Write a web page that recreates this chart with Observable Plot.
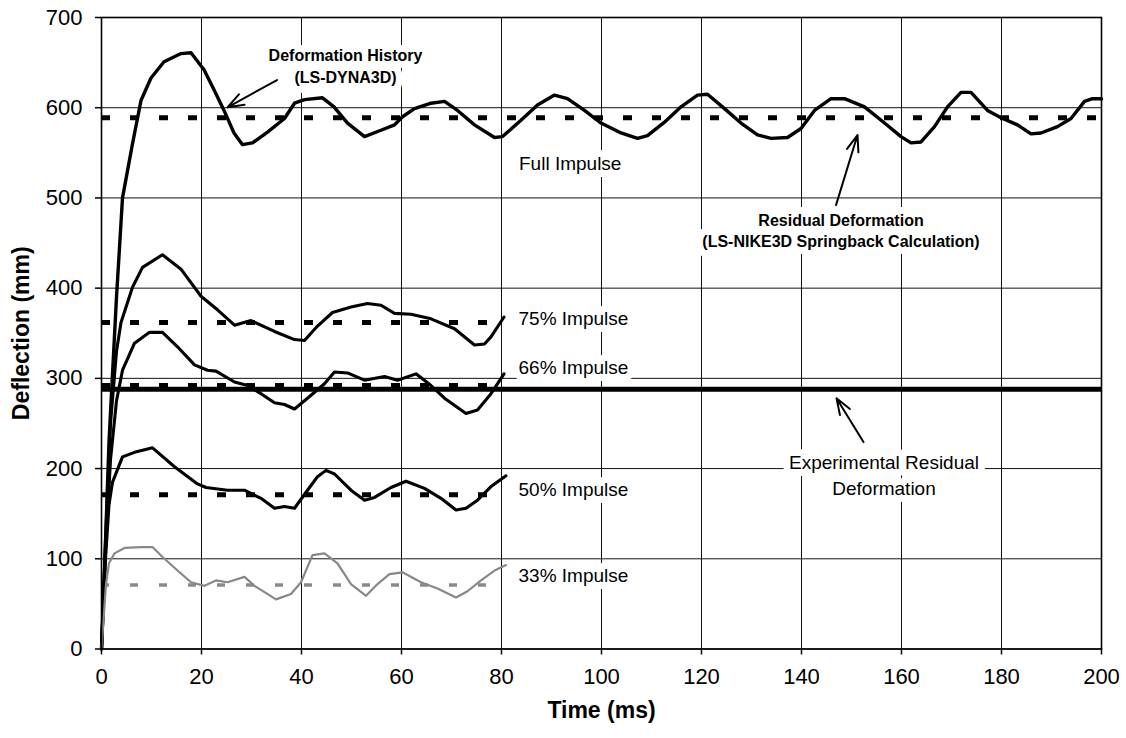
<!DOCTYPE html>
<html>
<head>
<meta charset="utf-8">
<script src="https://cdn.jsdelivr.net/npm/d3@7"></script>
<script src="https://cdn.jsdelivr.net/npm/@observablehq/plot@0.6"></script>
<style>
  html, body { margin: 0; padding: 0; background: #fff; }
</style>
</head>
<body>
<div id="chart"></div>
<script>
// ---- tick labels ----
const xTicks = [0, 20, 40, 60, 80, 100, 120, 140, 160, 180, 200];
const yTicks = [0, 100, 200, 300, 400, 500, 600, 700];

// ---- deformation histories (LS-DYNA3D) ----
const fullT = [0, 0.5, 1.5, 3, 4.2, 6.2, 7.9, 9.9, 12.5, 15.9, 17.9, 20.5, 22.5, 24.5, 26.5, 28.2, 30.2, 33.2, 36.6, 38.6, 40.6, 44.2, 46.5, 49.2, 52.6, 55.9, 58.6, 60.2, 62.6, 65.9, 68.6, 71.2, 74.6, 78.6, 80.2, 83.9, 87.2, 90.6, 93.2, 96.6, 99.9, 103.9, 107.2, 109.2, 112.6, 115.9, 119.2, 121.2, 124.6, 127.9, 131.2, 133.9, 137.2, 139.9, 142.6, 145.9, 148.6, 152.6, 156.6, 159.9, 161.9, 163.9, 166.6, 169.2, 171.9, 173.9, 177.2, 179.9, 183.2, 185.9, 187.9, 191.2, 193.9, 196.6, 198.2, 200];
const fullD = [0, 70, 230, 390, 500, 560, 608, 633, 651, 660, 661, 642, 620, 597, 572, 559, 561, 573, 588, 605, 609, 611, 601, 583, 568, 575, 581, 590, 599, 605, 607, 597, 581, 567, 568, 586, 603, 614, 610, 597, 583, 572, 566, 569, 584, 601, 614, 615, 599, 583, 570, 566, 567, 577, 597, 610, 610, 601, 583, 568, 561, 562, 579, 601, 617, 617, 597, 589, 581, 571, 572, 579, 588, 607, 610, 610];

const p75T = [0, 0.8, 1.8, 3, 3.9, 6.2, 8.2, 12.2, 15.9, 19.9, 23.2, 26.6, 29.9, 34.6, 38.6, 40.6, 43.2, 46.2, 49.9, 53.2, 55.9, 58.6, 61.9, 65.9, 70.6, 74.6, 76.6, 77.9, 80.5];
const p75D = [0, 120, 250, 330, 362, 401, 423, 437, 421, 391, 376, 359, 364, 352, 343, 342, 358, 373, 379, 383, 381, 372, 371, 366, 355, 337, 338, 346, 368];

const p66T = [0, 0.8, 1.8, 3, 4.2, 6.6, 9.6, 12.2, 15.2, 18.6, 21.2, 22.9, 26.6, 29.2, 31.9, 34.6, 36.6, 38.6, 41.2, 44.6, 46.6, 49.2, 52.6, 56.6, 59.2, 62.9, 65.9, 68.6, 72.9, 75.2, 77.9, 80.5];
const p66D = [0, 110, 210, 275, 309, 339, 351, 351, 335, 315, 309, 308, 296, 292, 283, 273, 271, 266, 278, 294, 307, 306, 298, 302, 298, 305, 292, 278, 261, 265, 283, 305];

const p50T = [0, 0.8, 1.5, 2.2, 4.2, 6.6, 10.2, 14.6, 19.2, 20.9, 25.2, 28.6, 31.9, 34.6, 36.6, 38.6, 41.2, 43.2, 44.9, 46.6, 49.9, 52.6, 54.6, 57.9, 60.9, 64.6, 67.9, 70.9, 72.9, 75.2, 77.9, 80.9];
const p50D = [0, 100, 160, 185, 213, 218, 223, 202, 183, 179, 176, 176, 167, 156, 158, 156, 176, 191, 198, 194, 176, 165, 168, 179, 186, 178, 167, 154, 156, 165, 180, 192];

const p33T = [0, 0.9, 1.5, 2.6, 4.6, 7.9, 10.2, 12.2, 15.2, 17.9, 20.6, 22.9, 25.2, 28.6, 30.6, 32.6, 34.9, 37.9, 39.9, 42.2, 44.6, 47.2, 49.9, 52.9, 55.2, 57.6, 60.2, 63.9, 67.2, 70.9, 73.2, 75.9, 78.6, 80.9];
const p33D = [0, 72, 95, 106, 112, 113, 113, 102, 87, 74, 70, 76, 74, 80, 70, 63, 55, 61, 74, 104, 106, 95, 72, 59, 72, 83, 85, 74, 67, 57, 64, 76, 87, 93];

// ---- residual deformations (LS-NIKE3D springback) ----
const residualNames = ["full", "p75", "p66", "p50", "p33"];
const residualValues = [589, 362, 292, 171, 71];
const residualEnds = [200, 80, 80, 80, 80];

// ---- experimental residual deformation ----
const experimentalValue = 288;
const experimentalEnd = 200;

// ---- labels ----
const seriesLabels = ["Full Impulse", "75% Impulse", "66% Impulse", "50% Impulse", "33% Impulse"];
const seriesLabelT = [83.5, 83.4, 83.4, 83.4, 83.4];
const seriesLabelD = [537.5, 365.5, 311.5, 175.8, 81.5];

const noteTexts = ["Deformation History\n(LS-DYNA3D)", "Residual Deformation\n(LS-NIKE3D Springback Calculation)"];
const noteT = [48.8, 147.9];
const noteD = [647.3, 464.8];

const expNoteText = "Experimental Residual\nDeformation";
const expNoteT = 156.5;
const expNoteD = 193.9;

// arrows: tail -> head
const arrowTailT = [35.1, 146.9, 152.4];
const arrowTailD = [630.7, 492, 229.4];
const arrowHeadT = [25.2, 151.2, 147.0];
const arrowHeadD = [600.4, 569.7, 277.9];

// ---- build tables ----
const mk = (T, D) => T.map((t, i) => ({t, d: D[i]}));
const curves = [
  {data: mk(fullT, fullD), stroke: "#000", w: 3.4},
  {data: mk(p75T, p75D), stroke: "#000", w: 3.1},
  {data: mk(p66T, p66D), stroke: "#000", w: 3.1},
  {data: mk(p50T, p50D), stroke: "#000", w: 3.1},
  {data: mk(p33T, p33D), stroke: "#888", w: 2.2}
];
const residuals = residualNames.map((n, i) => ({name: n, v: residualValues[i], x1: 0, x2: residualEnds[i]}));
const blackResiduals = residuals.filter(r => r.name !== "p33");
const grayResiduals = residuals.filter(r => r.name === "p33");
const experimental = [{v: experimentalValue, x1: 0, x2: experimentalEnd}];
const seriesLabelRows = seriesLabels.map((s, i) => ({s, t: seriesLabelT[i], d: seriesLabelD[i]}));
const noteRows = noteTexts.map((s, i) => ({s, t: noteT[i], d: noteD[i]}));
const arrows = arrowTailT.map((t, i) => ({x1: t, y1: arrowTailD[i], x2: arrowHeadT[i], y2: arrowHeadD[i]}));

const FONT = "'Liberation Sans', Arial, Helvetica, sans-serif";

const chart = Plot.plot({
  width: 1126,
  height: 738,
  marginTop: 17,
  marginBottom: 89.5,
  marginLeft: 101,
  marginRight: 25,
  style: {fontFamily: FONT, fontSize: "22px", background: "#fff", color: "#000"},
  x: {domain: [0, 200]},
  y: {domain: [0, 700]},
  marks: [
    Plot.gridX(xTicks, {stroke: "#111", strokeOpacity: 1, strokeWidth: 1}),
    Plot.gridY(yTicks, {stroke: "#111", strokeOpacity: 1, strokeWidth: 1}),
    // labels with white boxes (halo) knocking out gridlines
    Plot.text(seriesLabelRows, {x: "t", y: "d", text: "s", textAnchor: "start", fontSize: 19, fill: "#000", stroke: "#fff", strokeWidth: 14, strokeLinejoin: "round"}),
    Plot.text(noteRows, {x: "t", y: "d", text: "s", textAnchor: "middle", fontSize: 16, fontWeight: "bold", lineHeight: 1.34, fill: "#000", stroke: "#fff", strokeWidth: 14, strokeLinejoin: "round"}),
    Plot.text([expNoteText], {x: () => expNoteT, y: () => expNoteD, text: d => d, textAnchor: "middle", fontSize: 19, lineHeight: 1.37, fill: "#000", stroke: "#fff", strokeWidth: 14, strokeLinejoin: "round"}),
    // experimental residual
    Plot.ruleY(experimental, {y: "v", x1: "x1", x2: "x2", stroke: "#000", strokeWidth: 5}),
    // residual (springback) dashed lines
    Plot.ruleY(blackResiduals, {y: "v", x1: "x1", x2: "x2", stroke: "#000", strokeWidth: 5, strokeDasharray: "9,20"}),
    Plot.ruleY(grayResiduals, {y: "v", x1: "x1", x2: "x2", stroke: "#8a8a8a", strokeWidth: 3.5, strokeDasharray: "8,21"}),
    // histories
    ...curves.map(c => Plot.line(c.data, {x: "t", y: "d", stroke: c.stroke, strokeWidth: c.w, strokeLinejoin: "round", strokeLinecap: "round"})),
    // arrows
    Plot.arrow(arrows, {x1: "x1", y1: "y1", x2: "x2", y2: "y2", stroke: "#000", strokeWidth: 2, headLength: 13, headAngle: 40}),
    Plot.frame({stroke: "#000", strokeWidth: 1.6}),
    Plot.axisX({ticks: xTicks, tickSize: 6, tickPadding: 13, fontSize: 22, label: null, stroke: "#000", strokeWidth: 1.5}),
    Plot.axisY({ticks: yTicks, tickSize: 6, tickPadding: 13, fontSize: 22, label: null, stroke: "#000", strokeWidth: 1.5}),
    Plot.text(["Time (ms)"], {frameAnchor: "bottom", lineAnchor: "middle", dy: 62, text: d => d, fontSize: 23, fontWeight: "bold", fill: "#000"}),
    Plot.text(["Deflection (mm)"], {frameAnchor: "left", textAnchor: "middle", lineAnchor: "middle", dx: -80, rotate: -90, text: d => d, fontSize: 23, fontWeight: "bold", fill: "#000"})
  ]
});
document.getElementById("chart").appendChild(chart);
</script>
</body>
</html>
